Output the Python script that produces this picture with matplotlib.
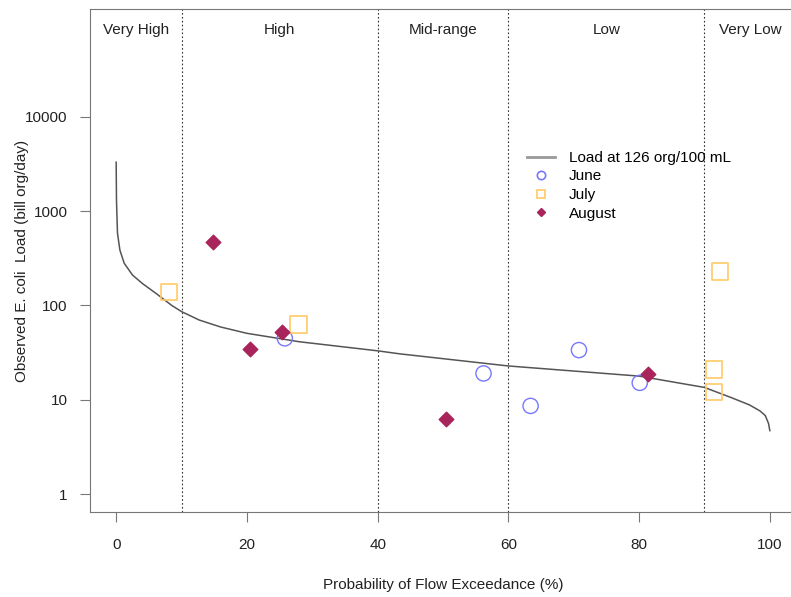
import matplotlib
matplotlib.use('Agg')
import matplotlib.pyplot as plt
from matplotlib.lines import Line2D
from matplotlib.ticker import FixedLocator, FixedFormatter

plt.rcParams['font.family'] = ['Liberation Sans', 'DejaVu Sans']
plt.rcParams['font.size'] = 11

# load duration curve at 126 org/100 mL
curve_x = [0, 0.05, 0.2, 0.57, 1.23, 2.5, 4.0, 6.1, 8.5, 10, 12.7, 16, 20, 28, 40, 43.3,
           60, 80, 90, 94.3, 96.9, 98.5, 99.3, 99.8, 100]
curve_y = [3300, 1300, 585, 386, 280, 210, 171, 134, 100, 86, 70, 59, 50.6, 41.2, 33, 30.7,
           22.8, 17.8, 13.5, 10.4, 8.8, 7.6, 6.8, 5.6, 4.7]

june_x = [25.8, 56.2, 63.4, 70.8, 80.1]
june_y = [44.8, 19.0, 8.6, 33.6, 15.1]
july_x = [8.1, 27.9, 91.5, 91.5, 92.4]
july_y = [139, 63, 21, 12, 228]
aug_x = [14.75, 20.5, 25.3, 50.4, 81.3]
aug_y = [474, 34.5, 52.6, 6.2, 18.7]

zone_breaks = [10, 40, 60, 90]
zone_names = ['Very High', 'High', 'Mid-range', 'Low', 'Very Low']
zone_label_x = [3, 25, 50, 75, 97]

yticks = [1, 10, 100, 1000, 10000]

fig = plt.figure(figsize=(7.91, 5.97), dpi=100)
ax = fig.add_axes([0.1138, 0.1424, 0.8925, 0.8425])

ax.plot(curve_x, curve_y, color='#555555', lw=1.1, zorder=2)
ax.scatter(june_x, june_y, s=120, facecolors='none', edgecolors='#7777ff', linewidths=1.0, zorder=3)
ax.scatter(july_x, july_y, s=140, marker='s', facecolors='none', edgecolors='#ffc966', linewidths=1.2, zorder=3)
ax.scatter(aug_x, aug_y, s=55, marker='D', color='#a8245a', zorder=3)

for b in zone_breaks:
    ax.axvline(b, color='#333333', ls=(0, (1.5, 2)), lw=0.8, zorder=1)
for xx, name in zip(zone_label_x, zone_names):
    ax.text(xx, 0.958, name, transform=ax.get_xaxis_transform(), ha='center', va='center',
            color='#222222')

ax.set_yscale('log')
ax.set_xlim(-4, 104)
ax.set_ylim(0.645, 1.39e5)
ax.yaxis.set_major_locator(FixedLocator(yticks))
ax.yaxis.set_major_formatter(FixedFormatter([str(t) for t in yticks]))
ax.yaxis.set_minor_locator(FixedLocator([]))
ax.set_xticks([0, 20, 40, 60, 80, 100])

for s in ax.spines.values():
    s.set_color('#777777')
ax.tick_params(axis='both', length=7, color='#777777', labelcolor='#222222')
ax.tick_params(axis='x', pad=12)
ax.tick_params(axis='y', pad=9)

ax.set_ylabel('Observed E. coli  Load (bill org/day)', color='#222222')
ax.set_xlabel('Probability of Flow Exceedance (%)', color='#222222')
ax.yaxis.set_label_coords(-0.086, 0.5)
ax.xaxis.set_label_coords(0.5, -0.131)

handles = [
    Line2D([], [], color='#999999', lw=2),
    Line2D([], [], ls='none', marker='o', ms=6, mfc='none', mec='#7777ff', mew=1.2),
    Line2D([], [], ls='none', marker='s', ms=6, mfc='none', mec='#ffc966', mew=1.2),
    Line2D([], [], ls='none', marker='D', ms=4, color='#a8245a'),
]
labels = ['Load at 126 org/100 mL', 'June', 'July', 'August']
ax.legend(handles, labels, loc='upper left', bbox_to_anchor=(0.619, 0.718), frameon=False,
          borderpad=0, borderaxespad=0, handlelength=1.83, handletextpad=0.9,
          labelspacing=0.3)

fig.savefig('out.png', dpi=100)
